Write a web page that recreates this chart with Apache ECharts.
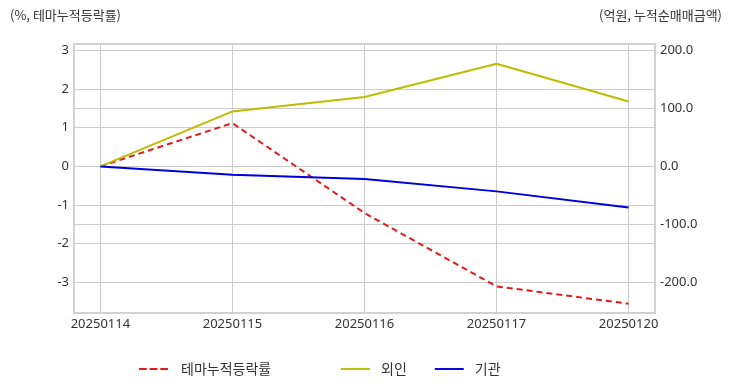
<!DOCTYPE html>
<html><head><meta charset="utf-8">
<script src="https://cdn.jsdelivr.net/npm/echarts@6/dist/echarts.min.js"></script>
<style>html,body{margin:0;padding:0;background:#fff}#c{width:732px;height:392px}</style>
</head><body><div id="c"></div>
<script>
const categories = ['20250114','20250115','20250116','20250117','20250120'];
const themeRate = [0, 1.12, -1.21, -3.11, -3.56];
const foreign = [0, 94.8, 119.7, 177.0, 112.0];
const institution = [0, -14.3, -21.7, -43.1, -70.7];
const leftTicks = [-3, -2, -1, 0, 1, 2, 3];
const rightTicks = [-200, -100, 0, 100, 200];
const xTicks = categories.map((c, i) => i);

const font = '"Noto Sans CJK KR", "Noto Sans", sans-serif';
const numFont = '"Noto Sans", "Noto Sans CJK KR", sans-serif';
const chart = echarts.init(document.getElementById('c'), null, {renderer: 'canvas'});
const toPairs = arr => arr.map((v, i) => [i, v]);
const solidIcon = 'path://M0,0h30v2h-30z';
const dashIcon = 'path://M0,0h8v2h-8z M11,0h8v2h-8z M22,0h8v2h-8z';

chart.setOption({
  animation: false,
  textStyle: {fontFamily: font},
  grid: {left: 74, right: 77, top: 44, bottom: 79, show: true, borderColor: '#d2d2d2', borderWidth: 2},
  graphic: [
    {type: 'text', left: 10, top: 9, style: {text: '(%, 테마누적등락률)', font: '13px ' + font, fill: '#333'}},
    {type: 'text', right: 10, top: 9, style: {text: '(억원, 누적순매매금액)', font: '13px ' + font, fill: '#333'}}
  ],
  legend: [
    {left: 139, top: 362, padding: 0, itemWidth: 29, itemHeight: 2, itemGap: 28,
     textStyle: {fontSize: 14, color: '#333', fontFamily: font, padding: [0, 0, 0, 8]},
     data: [{name: '테마누적등락률', icon: dashIcon}]},
    {left: 341, top: 362, padding: 0, itemWidth: 29, itemHeight: 2, itemGap: 28,
     textStyle: {fontSize: 14, color: '#333', fontFamily: font, padding: [0, 0, 0, 6]},
     data: [{name: '외인', icon: solidIcon}, {name: '기관', icon: solidIcon}]}
  ],
  xAxis: {
    type: 'value', min: -0.2, max: 4.2,
    axisLine: {show: false}, axisTick: {show: false, customValues: xTicks},
    splitLine: {show: true, lineStyle: {color: '#cccccc', width: 1}},
    axisLabel: {customValues: xTicks, formatter: v => categories[Math.round(v)] || '', color: '#333', fontSize: 13, fontFamily: numFont, margin: 5}
  },
  yAxis: [
    {type: 'value', min: -3.8, max: 3.17, position: 'left',
     axisLine: {show: false}, axisTick: {show: false, customValues: leftTicks},
     splitLine: {show: true, lineStyle: {color: '#cccccc', width: 1}},
     axisLabel: {customValues: leftTicks, color: '#333', fontSize: 13, fontFamily: numFont, margin: 5, formatter: v => String(v)}},
    {type: 'value', min: -252.8, max: 211, position: 'right',
     axisLine: {show: false}, axisTick: {show: false, customValues: rightTicks},
     splitLine: {show: true, lineStyle: {color: '#cccccc', width: 1}},
     axisLabel: {customValues: rightTicks, color: '#333', fontSize: 13, fontFamily: numFont, margin: 5, formatter: v => v.toFixed(1)}}
  ],
  series: [
    {name: '테마누적등락률', type: 'line', yAxisIndex: 0, data: toPairs(themeRate), symbol: 'none',
     lineStyle: {color: '#e31a1c', width: 2, type: [6, 4]}, itemStyle: {color: '#e31a1c'}},
    {name: '외인', type: 'line', yAxisIndex: 1, data: toPairs(foreign), symbol: 'none',
     lineStyle: {color: '#bdbd00', width: 2}, itemStyle: {color: '#bdbd00'}},
    {name: '기관', type: 'line', yAxisIndex: 1, data: toPairs(institution), symbol: 'none',
     lineStyle: {color: '#0000dd', width: 2}, itemStyle: {color: '#0000dd'}}
  ]
});
</script></body></html>
